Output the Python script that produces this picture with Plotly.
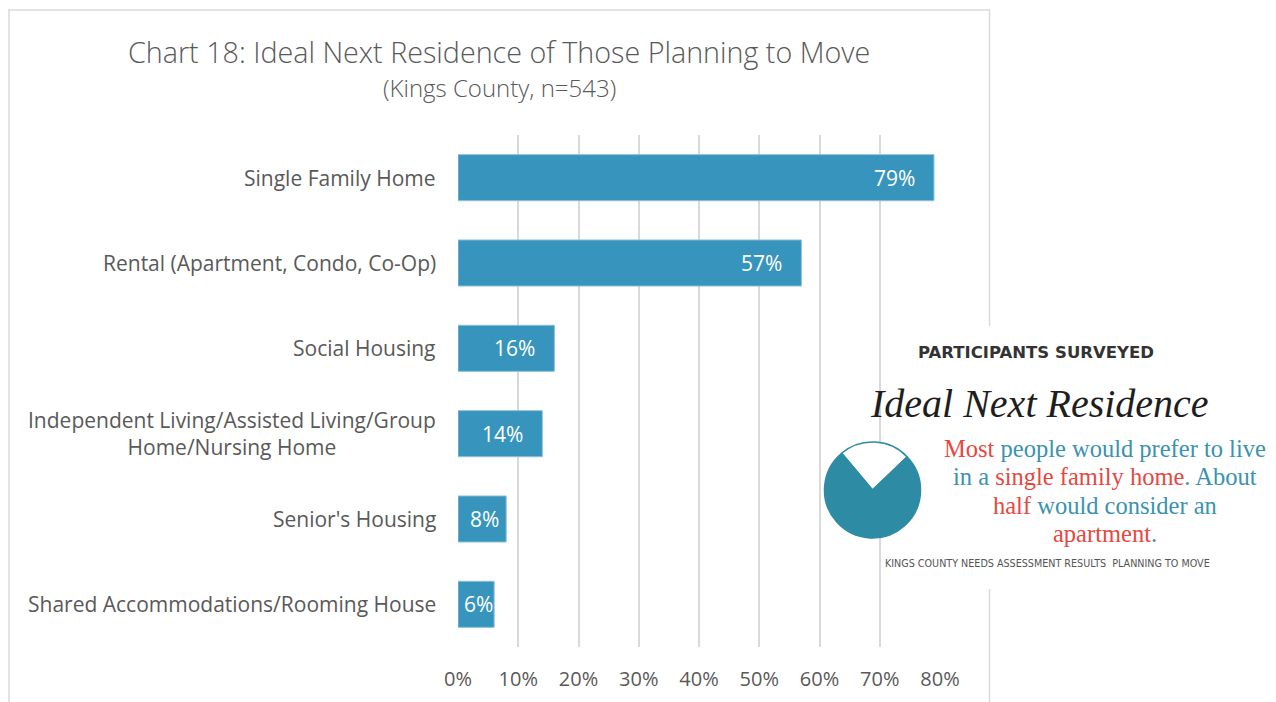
import plotly.graph_objects as go

# ---- data ----
categories = [
    "Single Family Home",
    "Rental (Apartment, Condo, Co-Op)",
    "Social Housing",
    "Independent Living/Assisted Living/Group<br>Home/Nursing Home",
    "Senior's Housing",
    "Shared Accommodations/Rooming House",
]
values = [0.79, 0.57, 0.16, 0.14, 0.08, 0.06]
x_ticks = [0, 0.1, 0.2, 0.3, 0.4, 0.5, 0.6, 0.7, 0.8]
x_tick_labels = ["0%", "10%", "20%", "30%", "40%", "50%", "60%", "70%", "80%"]
icon_labels = ["other", "single family"]
icon_values = [24, 76]

title_text = "Chart 18: Ideal Next Residence of Those Planning to Move"
subtitle_text = "(Kings County, n=543)"

BAR = "#3795BD"
GRID = "#D9D9D9"
TXT = "#595959"
TEAL = "#2E8BA4"
RED = "#E8473F"
BLUE_TXT = "#3A93AE"

W, H = 1276, 702
L, R, T, B = 458, 940, 135, 647
XMAX = 0.8


def px(x):
    return (x - L) / (R - L)


def py(y):
    return (B - y) / (B - T)


fig = go.Figure()
fig.add_trace(go.Bar(
    x=values, y=categories, orientation="h",
    marker=dict(color=BAR, line=dict(color="#8CC1D9", width=1)),
    hoverinfo="skip",
))

fig.add_trace(go.Pie(
    labels=icon_labels, values=icon_values, sort=False,
    direction="clockwise", rotation=-40,
    marker=dict(colors=["#FFFFFF", TEAL], line=dict(color=TEAL, width=1.5)),
    textinfo="none", hoverinfo="skip", showlegend=False,
    domain=dict(x=[px(824), px(921)], y=[py(538), py(442)]),
))

annotations = []
# category labels
for c in categories:
    annotations.append(dict(
        x=0, xref="paper", y=c, yref="y", xanchor="right", xshift=-20,
        text=c, showarrow=False, align="center",
        font=dict(family="Open Sans", size=21, color=TXT),
    ))
# value labels (inside end; centred when the bar is too short)
for c, v in zip(categories, values):
    bar_px = v / XMAX * (R - L)
    if bar_px < 62:
        annotations.append(dict(
            x=v / 2, xref="x", y=c, yref="y", xanchor="center", xshift=2,
            text=f"{round(v * 100)}%", showarrow=False,
            font=dict(family="Open Sans", size=21, color="#FFFFFF"),
        ))
    else:
        annotations.append(dict(
            x=v, xref="x", y=c, yref="y", xanchor="right", xshift=-17,
            text=f"{round(v * 100)}%", showarrow=False,
            font=dict(family="Open Sans", size=21, color="#FFFFFF"),
        ))
# titles
annotations.append(dict(
    x=px(499), y=py(51), xref="paper", yref="paper", text=title_text,
    showarrow=False, xanchor="center", yanchor="middle",
    font=dict(family="Open Sans", size=28.7, color=TXT, weight=300),
))
annotations.append(dict(
    x=px(499), y=py(87), xref="paper", yref="paper", text=subtitle_text,
    showarrow=False, xanchor="center", yanchor="middle",
    font=dict(family="Open Sans", size=24, color=TXT, weight=300),
))
# infographic texts
annotations.append(dict(
    x=px(1036), y=py(352), xref="paper", yref="paper", text="PARTICIPANTS SURVEYED",
    showarrow=False, xanchor="center", yanchor="middle",
    font=dict(family="DejaVu Sans", size=16.5, color="#333333", weight="bold"),
))
annotations.append(dict(
    x=px(1039), y=py(403), xref="paper", yref="paper", text="Ideal Next Residence",
    showarrow=False, xanchor="center", yanchor="middle",
    font=dict(family="Liberation Serif", size=40, color="#1E1E1E", style="italic"),
))
info_lines = [
    f"<span style='color:{RED}'>Most</span> people would prefer to live",
    f"in a <span style='color:{RED}'>single family home</span>. About",
    f"<span style='color:{RED}'>half</span> would consider an",
    f"<span style='color:{RED}'>apartment</span>.",
]
for i, line in enumerate(info_lines):
    annotations.append(dict(
        x=px(1105), y=py(448 + i * 28.5), xref="paper", yref="paper", text=line,
        showarrow=False, xanchor="center", yanchor="middle",
        font=dict(family="Liberation Serif", size=24.5, color=BLUE_TXT),
    ))
annotations.append(dict(
    x=px(1047), y=py(563), xref="paper", yref="paper",
    text="KINGS COUNTY NEEDS ASSESSMENT RESULTS  PLANNING TO MOVE",
    showarrow=False, xanchor="center", yanchor="middle",
    font=dict(family="DejaVu Sans", size=9.6, color="#555555"),
))

shapes = [
    # chart border
    dict(type="rect", xref="paper", yref="paper", layer="below",
         x0=px(9), x1=px(989.5), y0=py(710), y1=py(10),
         line=dict(color=GRID, width=1.5), fillcolor="rgba(0,0,0,0)"),
    # infographic white box (covers border)
    dict(type="rect", xref="paper", yref="paper", layer="below",
         x0=px(790), x1=px(1290), y0=py(589), y1=py(326),
         line=dict(width=0), fillcolor="#FFFFFF"),
    # infographic white box (covers gridlines)
    dict(type="rect", xref="paper", yref="paper", layer="between",
         x0=px(790), x1=px(1290), y0=py(589), y1=py(326),
         line=dict(width=0), fillcolor="#FFFFFF"),
]

fig.update_layout(
    width=W, height=H,
    margin=dict(l=L, r=W - R, t=T, b=H - B, pad=0, autoexpand=False),
    paper_bgcolor="#FFFFFF", plot_bgcolor="rgba(0,0,0,0)",
    showlegend=False, bargap=0.46,
    annotations=annotations, shapes=shapes,
    xaxis=dict(
        range=[0, XMAX], tickvals=x_ticks, ticktext=x_tick_labels,
        showgrid=True, gridcolor=GRID, gridwidth=1.5, zeroline=False,
        showline=False, ticks="", ticklabelstandoff=18,
        tickfont=dict(family="Open Sans", size=20, color=TXT),
        fixedrange=True,
    ),
    yaxis=dict(
        categoryorder="array", categoryarray=categories,
        autorange="reversed", showticklabels=False, showgrid=False,
        zeroline=False, showline=False, ticks="", fixedrange=True,
    ),
)

fig.write_html("out.html", config={"displayModeBar": False},
               post_script="document.body.style.margin='0';")
